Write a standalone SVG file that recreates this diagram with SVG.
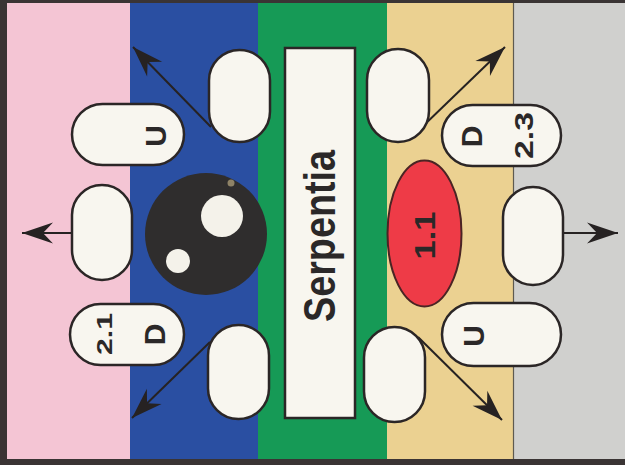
<svg xmlns="http://www.w3.org/2000/svg" width="625" height="465" viewBox="0 0 625 465">
<defs>
<style>
.pill{fill:#f8f6ef;stroke:#2b2626;stroke-width:2.5}
.lbl{font-family:"Liberation Sans",Arial,sans-serif;font-weight:bold;fill:#2b2828;text-anchor:middle}
.conn line{stroke:#262222;stroke-width:2}
</style>
<marker id="ah" markerUnits="userSpaceOnUse" viewBox="-34 -12 36 24" refX="0" refY="0" markerWidth="36" markerHeight="24" orient="auto">
<path d="M0,0 L-31,-10.5 L-21,0 L-31,10.5 Z" fill="#262222"/>
</marker>
</defs>
<rect x="0" y="0" width="625" height="465" fill="#3a3434"/>
<g id="stripes">
<rect x="7" y="3" width="123" height="456" fill="#f4c5d4"/>
<rect x="130" y="3" width="128" height="456" fill="#2a4fa2"/>
<rect x="258" y="3" width="129" height="456" fill="#169a56"/>
<rect x="387" y="3" width="127" height="456" fill="#ebd191"/>
<rect x="514" y="3" width="111" height="456" fill="#d0d0ce"/>
<line x1="513.5" y1="3" x2="513.5" y2="459" stroke="#5e5a50" stroke-width="1.2"/>
</g>
<g id="connectors" class="conn">
<line x1="211" y1="127" x2="133" y2="47" marker-end="url(#ah)"/>
<line x1="72" y1="233" x2="22" y2="233" marker-end="url(#ah)"/>
<line x1="210" y1="342" x2="132" y2="418" marker-end="url(#ah)"/>
<line x1="421" y1="128" x2="505" y2="47" marker-end="url(#ah)"/>
<line x1="563" y1="233" x2="618" y2="233" marker-end="url(#ah)"/>
<line x1="418" y1="337" x2="502" y2="420" marker-end="url(#ah)"/>
</g>
<g id="sphere">
<circle cx="206" cy="234" r="61" fill="#2f2d2d"/>
<circle cx="222" cy="216" r="21" fill="#f4f2ea"/>
<circle cx="178" cy="261" r="12" fill="#f4f2ea"/>
<circle cx="231" cy="183" r="3.5" fill="#8e8266"/>
</g>
<g id="serpentia">
<rect x="285" y="48" width="70" height="370" fill="#f8f6ef" stroke="#2b2626" stroke-width="2.5"/>
<text class="lbl" transform="translate(335,236) rotate(-90)" font-size="44" textLength="172" lengthAdjust="spacingAndGlyphs">Serpentia</text>
</g>
<g id="n-u-top">
<rect class="pill" x="72" y="104" width="112" height="61" rx="30.5"/>
<text class="lbl" transform="translate(166,136) rotate(-90)" font-size="30">U</text>
</g>
<g id="n-top-blue"><rect class="pill" x="209" y="50" width="61" height="92" rx="30.5"/></g>
<g id="n-left"><rect class="pill" x="72" y="185" width="60" height="95" rx="30"/></g>
<g id="n-21d">
<rect class="pill" x="70" y="304" width="114" height="61" rx="30.5"/>
<text class="lbl" transform="translate(112,334) rotate(-90)" font-size="22" textLength="42" lengthAdjust="spacingAndGlyphs">2.1</text>
<text class="lbl" transform="translate(165,334.5) rotate(-90)" font-size="30">D</text>
</g>
<g id="n-bot-blue"><rect class="pill" x="208" y="325" width="61" height="94" rx="30.5"/></g>
<g id="n-top-tan"><rect class="pill" x="367" y="49" width="62" height="93" rx="31"/></g>
<g id="n-d23">
<rect class="pill" x="442" y="105" width="119" height="61" rx="30.5"/>
<text class="lbl" transform="translate(482,136.5) rotate(-90)" font-size="30">D</text>
<text class="lbl" transform="translate(533,135.5) rotate(-90)" font-size="25" textLength="47" lengthAdjust="spacingAndGlyphs">2.3</text>
</g>
<g id="n-11">
<ellipse cx="424.5" cy="233.5" rx="37" ry="73" fill="#ee3b47" stroke="#4a2424" stroke-width="2"/>
<text class="lbl" transform="translate(435,235.5) rotate(-90)" font-size="30" textLength="48" lengthAdjust="spacingAndGlyphs">1.1</text>
</g>
<g id="n-right"><rect class="pill" x="503" y="187" width="60" height="98" rx="30"/></g>
<g id="n-u-bot">
<rect class="pill" x="442" y="303" width="119" height="63" rx="31.5"/>
<text class="lbl" transform="translate(484,336) rotate(-90)" font-size="30">U</text>
</g>
<g id="n-bot-tan"><rect class="pill" x="364" y="327" width="61" height="95" rx="30.5"/></g>
</svg>
